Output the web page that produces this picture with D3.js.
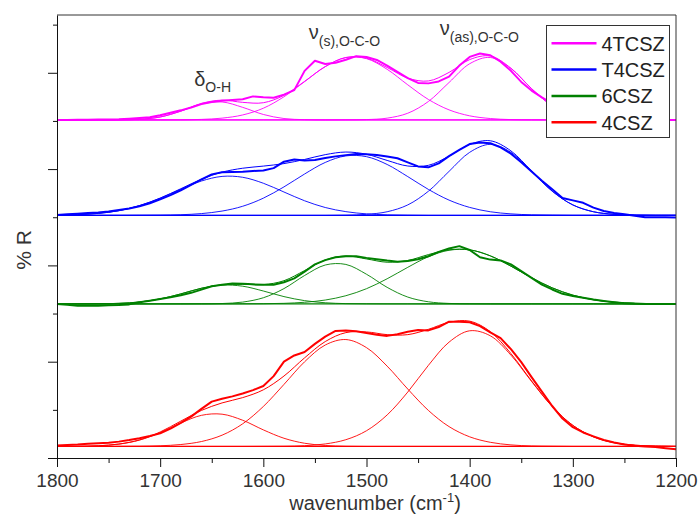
<!DOCTYPE html>
<html><head><meta charset="utf-8">
<script src="https://cdn.jsdelivr.net/npm/d3@7/dist/d3.min.js"></script>
<style>
body{margin:0;background:#fff}
text{font-family:"Liberation Sans",Arial,sans-serif}
</style>
</head><body>
<svg id="c" width="699" height="518"></svg>
<script>
// ---------- DATA ----------
const seriesNames = ["4TCSZ", "T4CSZ", "6CSZ", "4CSZ"];
const seriesColors = ["#ff00ff", "#0000ff", "#008000", "#ff0000"];
const xMajorTicks = [1800, 1700, 1600, 1500, 1400, 1300, 1200];
const xMinorTicks = [1750, 1650, 1550, 1450, 1350, 1250];
const yMajorTicks = [0, 100, 200, 300, 400];
const yMinorTicks = [50, 150, 250, 350, 450];
// measured spectra grid (cm-1), 1800 -> 1200, step 10
const dataWavenumbers = d3.range(1800, 1199, -10);
// fitted component grid (cm-1), 1800 -> 1200, step 20
const fitWavenumbers = d3.range(1800, 1199, -20);
// vertical offsets (baselines) of each stacked spectrum, %R
const baselines = [351, 252, 160, 12];

// measured spectra (%R, offset)
const data4TCSZ = [351,351,351.2,351.3,351.5,351.6,351.8,352.3,353,353.8,356,358.5,361,364,367.5,369.6,371,371.8,372.5,375.5,374.5,374,377.3,382,402,412.5,409.2,410.5,413.5,417.3,416.3,413.3,407.5,401,394.5,389.5,389,391,396,407.5,416.5,420,418.2,411.5,402,390.5,381.5,374.5,368,362.5,358,355,353,352,351.5,351,351,351,351,351,351];
const dataT4CSZ = [252.4,253,253.6,254.3,255,256,257.4,259,261.5,264.5,268.5,273,278,283.5,289.2,294.5,296.8,297,297.3,298,298.6,301,307.7,310,308.8,309.5,311.5,313.2,314.5,315.7,315.3,314.7,313,311.2,307,302.8,301.8,306,313.5,320,326,327.5,326.8,322.5,316,307,297.5,288,279,270,267.5,265,260,256.5,254.5,253,251.5,250,250,250,249.8];
const data6CSZ = [160,159,158,158,158.2,158.5,158.8,159.5,161.8,163.3,165,166.8,169,171.5,174.8,178.3,180,181.3,181,180.3,179.8,180,182.5,186.5,193.5,201,205.5,208.5,209.5,209.5,207.8,206.4,205,203.9,204.6,206.3,209.5,214,217.5,220,216,208.5,206,205.2,201,194,187,180,175,170.5,168.3,166.3,164.5,163,161.7,160.6,160.1,160,160,160,160];
const data4CSZ = [13,13.5,14,14.8,15.3,15.9,17,18.6,20.5,22.8,25.6,30.5,36.5,43,51,58.5,61.5,64,67,70.5,74.8,85,100,106.5,110,118.5,126,132,132.5,131.5,129.8,128,126.8,128.5,131,133,132.5,136,141.5,141.5,141,137,130.5,124.5,113,99.5,84,69,54,41,32,26.5,22.5,18.7,16,14,12.8,12,11.3,10.2,9];

// fitted bands, height above each baseline: δ(O-H), νs(O-C-O), νas(O-C-O)
const bandOH_4TCSZ  = [0,0,0,0.1,0.7,3.1,9.1,16.6,18.7,13.1,5.7,1.5,0.3,0,0,0,0,0,0,0,0,0,0,0,0,0,0,0,0,0,0];
const bandS_4TCSZ   = [0,0,0,0,0,0,0.1,0.6,1.9,5.2,12.2,24.1,39.8,55.4,64.8,63.7,52.6,36.5,21.3,10.5,4.3,1.5,0.4,0.1,0,0,0,0,0,0,0];
const bandAS_4TCSZ  = [0,0,0,0,0,0,0,0,0,0,0,0,0,0,0.1,0.4,1.9,7.0,19.2,38.9,58.4,64.9,53.4,32.5,14.7,4.9,1.2,0.2,0,0,0];

const bandOH_T4CSZ  = [0.2,0.7,2.0,4.8,10.0,17.7,27.0,35.6,40.4,39.5,33.3,24.2,15.1,8.1,3.8,1.5,0.5,0.2,0,0,0,0,0,0,0,0,0,0,0,0,0];
const bandS_T4CSZ   = [0,0,0,0,0.1,0.2,0.6,1.8,4.4,9.4,17.8,29.5,42.9,54.9,61.7,60.9,52.8,40.2,26.9,15.8,8.2,3.7,1.5,0.5,0.2,0,0,0,0,0,0];
const bandAS_T4CSZ  = [0,0,0,0,0,0,0,0,0,0,0,0,0,0,0.2,1.0,3.7,10.8,25.0,45.6,65.4,73.7,65.4,45.6,25.0,10.8,3.7,1.0,0.2,0,0];

const bandOH_6CSZ   = [0,0,0.1,0.6,2.0,5.2,10.4,16.2,19.5,18.4,13.4,7.6,3.4,1.2,0.3,0.1,0,0,0,0,0,0,0,0,0,0,0,0,0,0,0];
const bandS_6CSZ    = [0,0,0,0,0,0,0,0.1,0.4,1.9,6.4,15.9,29.5,40.4,41.0,30.8,17.2,7.1,2.2,0.5,0.1,0,0,0,0,0,0,0,0,0,0];
const bandAS_6CSZ   = [0,0,0,0,0,0,0,0,0,0.1,0.2,0.6,1.7,4.0,8.5,15.8,26.1,38.0,49.0,55.7,56.1,49.9,39.2,27.2,16.7,9.1,4.3,1.8,0.7,0.2,0.1];

const bandOH_4CSZ   = [0,0.1,0.7,2.4,6.6,14.3,24.3,32.3,33.5,27.2,17.2,8.5,3.3,1.0,0.2,0,0,0,0,0,0,0,0,0,0,0,0,0,0,0,0];
const bandS_4CSZ    = [0,0,0,0.1,0.2,0.7,2.0,5.1,11.7,23.5,41.5,64.4,87.9,105.3,111,102.6,83.4,59.6,37.4,20.6,10.0,4.3,1.6,0.5,0.2,0,0,0,0,0,0];
const bandAS_4CSZ   = [0,0,0,0,0,0,0,0,0,0,0.1,0.2,0.8,2.6,7.0,16.3,32.7,56.5,84.2,108.3,120.1,114.9,94.8,67.5,41.4,21.9,10.0,3.9,1.3,0.4,0.1];

const annotations = [
  {sym: "δ", sub: "O-H", wn: 1667},
  {sym: "ν", sub: "(s),O-C-O", wn: 1556},
  {sym: "ν", sub: "(as),O-C-O", wn: 1429}
];

const measured = [data4TCSZ, dataT4CSZ, data6CSZ, data4CSZ];
const bands = [
  [bandOH_4TCSZ, bandS_4TCSZ, bandAS_4TCSZ],
  [bandOH_T4CSZ, bandS_T4CSZ, bandAS_T4CSZ],
  [bandOH_6CSZ, bandS_6CSZ, bandAS_6CSZ],
  [bandOH_4CSZ, bandS_4CSZ, bandAS_4CSZ]
];

// ---------- CHART ----------
const svg = d3.select("#c");
const x = d3.scaleLinear().domain([1800, 1200]).range([57, 676]);
const y = d3.scaleLinear().domain([0, 460]).range([458, 15]);

const line = d3.line().x(d => x(d[0])).y(d => y(d[1]));
const smooth = d3.line().x(d => x(d[0])).y(d => y(d[1])).curve(d3.curveCatmullRom.alpha(0.5));

const plot = svg.append("g");

seriesNames.forEach((name, i) => {
  const col = seriesColors[i];
  const b = baselines[i];
  plot.append("path")
    .attr("d", line([[1800, b], [1200, b]]))
    .attr("fill", "none").attr("stroke", col).attr("stroke-width", 1.3);
  bands[i].forEach(band => {
    plot.append("path")
      .attr("d", smooth(fitWavenumbers.map((w, k) => [w, b + band[k]])))
      .attr("fill", "none").attr("stroke", col).attr("stroke-width", 0.9);
  });
  const fit = fitWavenumbers.map((w, k) => [w, b + bands[i][0][k] + bands[i][1][k] + bands[i][2][k]]);
  plot.append("path")
    .attr("d", smooth(fit))
    .attr("fill", "none").attr("stroke", col).attr("stroke-width", 1);
  plot.append("path")
    .attr("d", line(dataWavenumbers.map((w, k) => [w, measured[i][k]])))
    .attr("fill", "none").attr("stroke", col).attr("stroke-width", 2)
    .attr("stroke-linejoin", "round");
});

// frame
svg.append("path")
  .attr("d", `M${x(1800)},${y(460)}H${x(1200)}V${y(0)}`)
  .attr("fill", "none").attr("stroke", "#333").attr("stroke-width", 1);

// axes
const xAxis = svg.append("g").attr("transform", `translate(0,${y(0)})`)
  .call(d3.axisBottom(x).tickValues(xMajorTicks).tickSize(9).tickSizeOuter(0).tickPadding(7).tickFormat(d3.format("d")));
svg.append("g").attr("transform", `translate(0,${y(0)})`)
  .call(d3.axisBottom(x).tickValues(xMinorTicks).tickSize(5).tickSizeOuter(0).tickFormat(""))
  .select(".domain").remove();
xAxis.selectAll("text").attr("font-size", 19).attr("fill", "#333")
  .style("font-family", '"Liberation Sans",Arial,sans-serif');

svg.append("g").attr("transform", `translate(${x(1800)},0)`)
  .call(d3.axisLeft(y).tickValues(yMajorTicks).tickSize(9).tickSizeOuter(0).tickFormat(""));
svg.append("g").attr("transform", `translate(${x(1800)},0)`)
  .call(d3.axisLeft(y).tickValues(yMinorTicks).tickSize(4).tickSizeOuter(0).tickFormat(""))
  .select(".domain").remove();
svg.selectAll(".domain, .tick line").attr("stroke", "#111");

// axis titles
const xt = svg.append("text").attr("x", 375).attr("y", 510).attr("text-anchor", "middle")
  .attr("font-size", 20).attr("fill", "#333");
xt.append("tspan").text("wavenumber (cm");
xt.append("tspan").attr("font-size", 13).attr("dy", -8).text("-1");
xt.append("tspan").attr("dy", 8).text(")");

svg.append("text").attr("transform", "translate(31,250) rotate(-90)")
  .attr("text-anchor", "middle").attr("font-size", 21).attr("fill", "#333").text("% R");

// band annotations
const annY = [[86, 92], [39, 46], [35, 42]];
annotations.forEach((a, i) => {
  const t = svg.append("text").attr("x", x(a.wn)).attr("y", annY[i][0])
    .attr("font-size", 20).attr("fill", "#333");
  t.append("tspan").text(a.sym);
  t.append("tspan").attr("font-size", 14).attr("dy", annY[i][1] - annY[i][0]).text(a.sub);
});

// legend
const lg = svg.append("g");
lg.append("rect").attr("x", 546.5).attr("y", 25.5).attr("width", 123).attr("height", 112)
  .attr("fill", "#fff").attr("stroke", "#333").attr("stroke-width", 1);
seriesNames.forEach((name, i) => {
  const ly = 43.3 + i * 26.3;
  lg.append("line").attr("x1", 551.5).attr("x2", 596.5).attr("y1", ly).attr("y2", ly)
    .attr("stroke", seriesColors[i]).attr("stroke-width", 2.5);
  lg.append("text").attr("x", 601.5).attr("y", ly + 7.3).attr("font-size", 20)
    .attr("fill", "#222").text(name);
});
</script>
</body></html>
